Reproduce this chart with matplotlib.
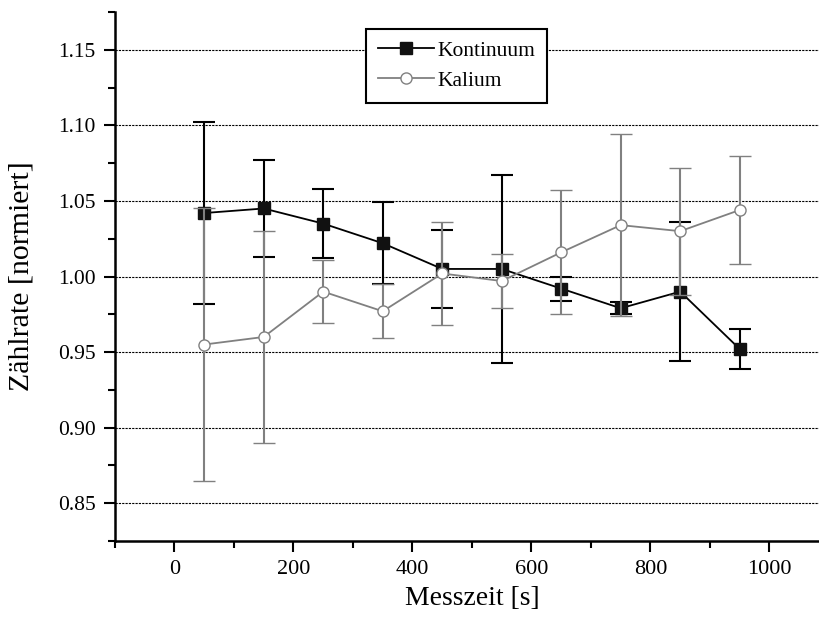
import numpy as np
import matplotlib
matplotlib.use("Agg")
import matplotlib.pyplot as plt
from matplotlib.lines import Line2D
from matplotlib.ticker import MultipleLocator

plt.rcParams['font.family'] = ['Liberation Serif', 'DejaVu Serif']

# Messzeit [s] (Intervallmitten)
zeit = [50, 150, 250, 350, 450, 550, 650, 750, 850, 950]

# normierte Zaehlraten mit Fehlern
kontinuum = [1.042, 1.045, 1.035, 1.022, 1.005, 1.005, 0.992, 0.979, 0.990, 0.952]
kontinuum_err = [0.060, 0.032, 0.023, 0.027, 0.026, 0.062, 0.008, 0.004, 0.046, 0.013]
kalium = [0.955, 0.960, 0.990, 0.977, 1.002, 0.997, 1.016, 1.034, 1.030, 1.044]
kalium_err = [0.090, 0.070, 0.021, 0.018, 0.034, 0.018, 0.041, 0.060, 0.042, 0.036]

grau = '#808080'

fig = plt.figure(figsize=(8.19, 6.19), dpi=100)
ax = fig.add_axes([0.1404, 0.126, 0.8718, 0.8546])

ax.errorbar(zeit, kontinuum, yerr=kontinuum_err, color='black', lw=1.3,
            elinewidth=1.5, capsize=8, capthick=1.5, marker='s', ms=8,
            mfc='#111111', mec='#111111', zorder=3)
ax.errorbar(zeit, kalium, yerr=kalium_err, color=grau, lw=1.3,
            elinewidth=1.5, capsize=8, capthick=1.5, marker='o', ms=8,
            mfc='white', mec=grau, mew=1.0, zorder=4)

ax.set_xlim(-100, 1100)
ax.set_ylim(0.825, 1.175)
ax.xaxis.set_major_locator(MultipleLocator(200))
ax.xaxis.set_minor_locator(MultipleLocator(100))
ax.yaxis.set_major_locator(MultipleLocator(0.05))
ax.yaxis.set_minor_locator(MultipleLocator(0.025))
ax.yaxis.set_major_formatter(plt.FormatStrFormatter('%.2f'))

ax.yaxis.grid(True, which='major', color='black', lw=0.8, ls=(0, (2, 1)))
ax.set_axisbelow(True)

for s in ['top', 'right']:
    ax.spines[s].set_visible(False)
for s in ['left', 'bottom']:
    ax.spines[s].set_linewidth(1.8)

ax.tick_params(which='major', direction='out', length=8, width=1.5)
ax.tick_params(which='minor', direction='out', length=5, width=1.5)
ax.tick_params(axis='x', labelsize=16, pad=6)
ax.tick_params(axis='y', labelsize=15.5, pad=6)

ax.set_xlabel('Messzeit [s]', fontsize=20, labelpad=5)
ax.set_ylabel('Zählrate [normiert]', fontsize=21.5, labelpad=17)

handles = [
    Line2D([], [], color='black', lw=1.3, marker='s', ms=8, mfc='#111111', mec='#111111'),
    Line2D([], [], color=grau, lw=1.3, marker='o', ms=8, mfc='white', mec=grau),
]
leg = ax.legend(handles, ['Kontinuum', 'Kalium'], loc='upper left',
                bbox_to_anchor=(366 / 819, 1 - 29 / 619), bbox_transform=fig.transFigure,
                fontsize=15.5, frameon=True, fancybox=False, framealpha=1,
                edgecolor='black', handlelength=2.6, handletextpad=0.15,
                borderpad=0.55, labelspacing=0.45, borderaxespad=0)
leg.get_frame().set_linewidth(1.5)

fig.savefig('out.png', dpi=100)
